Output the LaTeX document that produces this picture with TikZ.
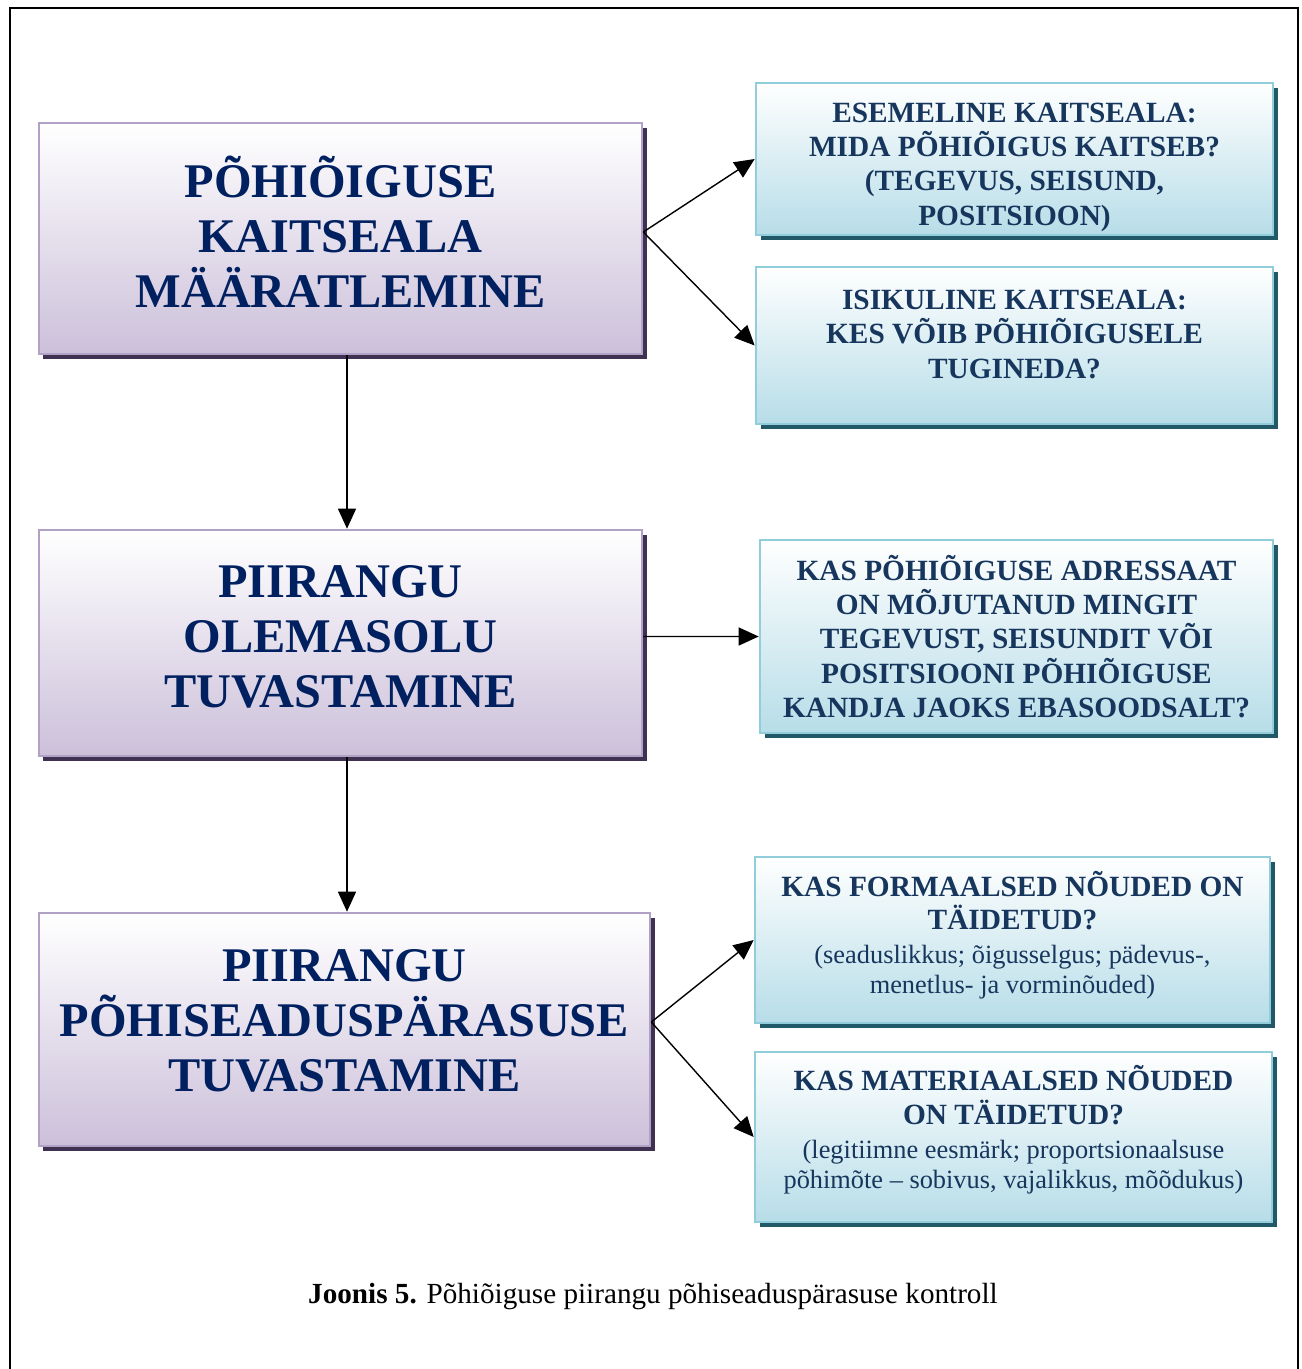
\documentclass[tikz,border=0pt]{standalone}
\usepackage{fontspec}
\setmainfont{Liberation Serif}
\usetikzlibrary{positioning,shadows,arrows.meta}

\definecolor{headnavy}{HTML}{002060}
\definecolor{asknavy}{HTML}{17365D}
\definecolor{lilacedge}{HTML}{B2A1C7}
\definecolor{lilacfill}{HTML}{CCC0DA}
\definecolor{lilacshade}{HTML}{3F3151}
\definecolor{aquaedge}{HTML}{92CDDC}
\definecolor{aquafill}{HTML}{B7DDE8}
\definecolor{aquashade}{HTML}{215968}

% invisible rules to nudge text inside a box
\newcommand{\upby}[1]{\rule[-#1]{0pt}{0pt}}
\newcommand{\downby}[1]{\rule{0pt}{#1}}

\begin{document}
\begin{tikzpicture}[
                    stage/.style={rectangle, draw=lilacedge, line width=1.5pt,
                    top color=white, bottom color=lilacfill, inner sep=0pt,
                    drop shadow={shadow xshift=0.09cm, shadow yshift=-0.09cm,
                    fill=lilacshade, opacity=1}, text=headnavy, align=center,
                    font=\bfseries\fontsize{27.5}{31.3}\selectfont},
                    check/.style={rectangle, draw=aquaedge, line width=1.5pt,
                    top color=white, bottom color=aquafill, inner sep=0pt,
                    drop shadow={shadow xshift=0.09cm, shadow yshift=-0.09cm,
                    fill=aquashade, opacity=1}, text=asknavy, align=center,
                    font=\bfseries\fontsize{16.7}{19.5}\selectfont},
                    mixed/.style={font=\bfseries\fontsize{16.7}{17}\selectfont},
                    >={Triangle[length=0.4cm, width=0.36cm]}, line width=0.8pt,
                ]
                \useasboundingbox (0,0) rectangle (26.04,-27.38);
                \draw[line width=1pt] (0.2,-27.6) -- (0.2,-0.16) -- (25.96,-0.16) -- (25.96,-27.6);

                \node[stage, minimum width=12.06cm, minimum height=4.62cm] (scope_box) at (6.81,-4.77)
                {PÕHIÕIGUSE\\ KAITSEALA\\ MÄÄRATLEMINE\upby{0.28cm}};
                \node[stage, minimum width=12.06cm, minimum height=4.52cm] (limit_box) at (6.81,-12.86)
                {PIIRANGU\\ OLEMASOLU\\ TUVASTAMINE\upby{0.26cm}};
                \node[stage, minimum width=12.22cm, minimum height=4.66cm] (legal_box) at (6.89,-20.59)
                {PIIRANGU\\ PÕHISEADUSPÄRASUSE\\ TUVASTAMINE\upby{0.36cm}};

                \node[check, minimum width=10.34cm, minimum height=3.04cm] (object_box) at (20.29,-3.18)
                {\downby{0.71cm}ESEMELINE KAITSEALA:\\ MIDA PÕHIÕIGUS KAITSEB?\\
                (TEGEVUS, SEISUND,\\ POSITSIOON)};
                \node[check, minimum width=10.34cm, minimum height=3.14cm] (subject_box) at (20.29,-6.91)
                {ISIKULINE KAITSEALA:\\ KES VÕIB PÕHIÕIGUSELE\\ TUGINEDA?\upby{0.45cm}};
                \node[check, minimum width=10.26cm, minimum height=3.86cm] (effect_box) at (20.33,-12.73)
                {KAS PÕHIÕIGUSE ADRESSAAT\\ ON MÕJUTANUD MINGIT\\
                TEGEVUST, SEISUNDIT VÕI\\ POSITSIOONI PÕHIÕIGUSE\\
                KANDJA JAOKS EBASOODSALT?};
                \node[check, mixed, minimum width=10.3cm, minimum height=3.32cm] (formal_box) at (20.25,-18.8)
                {KAS FORMAALSED NÕUDED ON\\[2.3pt] TÄIDETUD?\\[2.3pt]
                {\mdseries\fontsize{15}{17}\selectfont (seaduslikkus; õigusselgus; pädevus-,}\\
                {\mdseries\fontsize{15}{17}\selectfont menetlus- ja vorminõuded)}\upby{0.31cm}};
                \node[check, mixed, minimum width=10.34cm, minimum height=3.4cm] (material_box) at (20.27,-22.74)
                {KAS MATERIAALSED NÕUDED\\[2.3pt] ON TÄIDETUD?\\[2.3pt]
                {\mdseries\fontsize{15}{17}\selectfont (legitiimne eesmärk; proportsionaalsuse}\\
                {\mdseries\fontsize{15}{17}\selectfont põhimõte – sobivus, vajalikkus, mõõdukus)}\upby{0.4cm}};

                \node[font=\fontsize{16.6}{19}\selectfont] (caption) at (13.06,-25.94)
                {\textbf{Joonis 5.} Põhiõiguse piirangu põhiseaduspärasuse kontroll};

                \draw[->] ([yshift=0.13cm]scope_box.east) -- (object_box.west);
                \draw[->] ([yshift=0.13cm]scope_box.east) -- (subject_box.west);
                \draw[->] ([xshift=0.13cm]scope_box.south) -- ([xshift=0.13cm]limit_box.north);
                \draw[->] ([yshift=0.13cm]limit_box.east) -- (effect_box.west);
                \draw[->] ([xshift=0.13cm]limit_box.south) -- ([xshift=0.05cm]legal_box.north);
                \draw[->] ([yshift=0.15cm]legal_box.east) -- (formal_box.west);
                \draw[->] ([yshift=0.15cm]legal_box.east) -- (material_box.west);
            \end{tikzpicture}
\end{document}
